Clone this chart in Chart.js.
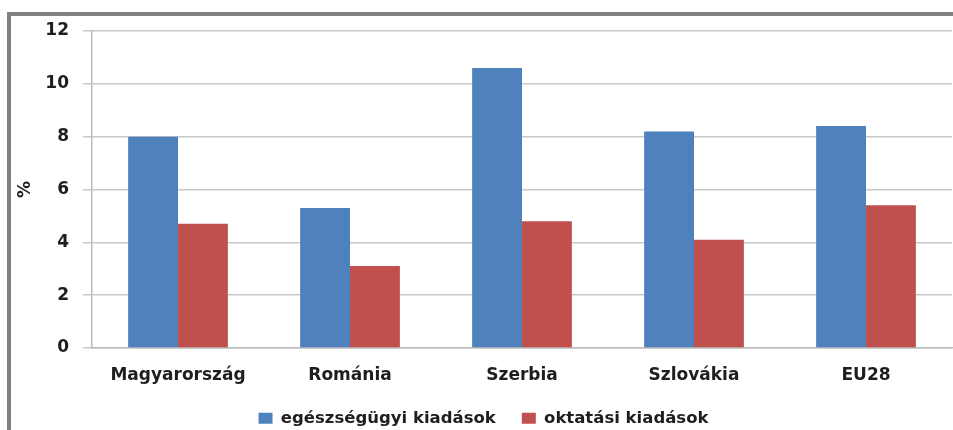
<!DOCTYPE html>
<html>
<head>
<meta charset="utf-8">
<script src="https://cdn.jsdelivr.net/npm/chart.js@4.4.1/dist/chart.umd.min.js"></script>
<style>
  html, body { margin: 0; padding: 0; background: #fff; }
  #wrap { position: relative; width: 953px; height: 430px; overflow: hidden; }
  #frame {
    position: absolute; left: 7px; top: 12px; right: -10px; bottom: -10px;
    border-top: 4px solid #808080; border-left: 4px solid #808080;
  }
  #chart { position: absolute; left: 0; top: 0; }
</style>
</head>
<body>
<div id="wrap">
  <div id="frame"></div>
  <canvas id="chart" width="953" height="430"></canvas>
</div>
<script>
const countries = ['Magyarország', 'Románia', 'Szerbia', 'Szlovákia', 'EU28'];
const healthSpending = [8.0, 5.3, 10.6, 8.2, 8.4];
const educationSpending = [4.7, 3.1, 4.8, 4.1, 5.4];
const seriesNames = ['egészségügyi kiadások', 'oktatási kiadások'];
const yTicks = [0, 2, 4, 6, 8, 10, 12];

const textColor = '#1e1e1e';
const fontFamily = "'DejaVu Sans', sans-serif";

const ctx = document.getElementById('chart').getContext('2d');
new Chart(ctx, {
  type: 'bar',
  data: {
    labels: countries,
    datasets: [{
      label: seriesNames[0],
      data: healthSpending,
      backgroundColor: '#4f81bd'
    }, {
      label: seriesNames[1],
      data: educationSpending,
      backgroundColor: '#c0504d'
    }]
  },
  options: {
    responsive: false,
    animation: false,
    categoryPercentage: 0.58,
    barPercentage: 1,
    layout: {
      padding: { left: 15, top: 31, right: 1, bottom: -6.5 }
    },
    plugins: {
      tooltip: { enabled: false },
      legend: {
        position: 'bottom',
        labels: {
          boxWidth: 14,
          boxHeight: 11,
          padding: 26,
          color: textColor,
          font: { family: fontFamily, size: 16.5, weight: 'bold' }
        }
      }
    },
    scales: {
      x: {
        grid: { display: false, drawTicks: false },
        border: { color: '#bcbcbc', width: 1.5 },
        ticks: {
          padding: 17,
          color: textColor,
          font: { family: fontFamily, size: 17, weight: 'bold' }
        },
        afterFit: scale => { scale.height = 36; }
      },
      y: {
        min: yTicks[0],
        max: yTicks[yTicks.length - 1],
        afterBuildTicks: scale => { scale.ticks = yTicks.map(v => ({ value: v })); },
        grid: { color: '#c8c8c8', lineWidth: 1.5, tickLength: 9 },
        border: { color: '#bcbcbc', width: 1.5 },
        ticks: {
          padding: 14,
          color: textColor,
          font: { family: fontFamily, size: 17, weight: 'bold' }
        },
        title: {
          display: true,
          text: '%',
          padding: 0,
          color: textColor,
          font: { family: fontFamily, size: 17, weight: 'bold' }
        },
        afterFit: scale => { scale.width = 77; }
      }
    }
  }
});
</script>
</body>
</html>
